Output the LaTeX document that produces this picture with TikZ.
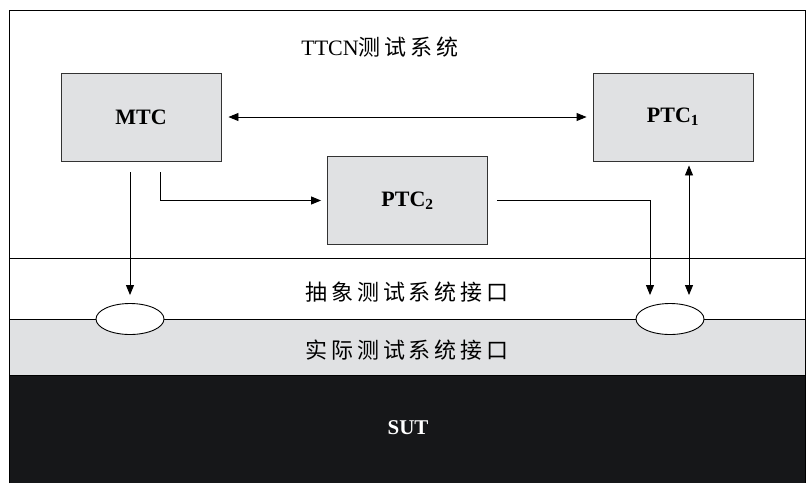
\documentclass[tikz,border=0pt]{standalone}
\usepackage{fontspec}
\setmainfont{Liberation Serif}
\newfontfamily\cjk[LetterSpace=18]{Noto Sans CJK SC}
\usetikzlibrary{arrows.meta,shapes.geometric}
\definecolor{boxgray}{HTML}{E0E1E3}
\definecolor{sutblack}{HTML}{161719}
\tikzset{
  comp/.style={draw=black!80, fill=boxgray, line width=0.9pt, minimum width=160pt,
    minimum height=88pt, font=\fontsize{22}{24}\selectfont\bfseries},
  port/.style={ellipse, draw, fill=white, line width=0.9pt, minimum width=68pt, minimum height=31pt, inner sep=0pt},
  tip/.tip={Triangle[length=10pt,width=8pt]},
  conn/.style={line width=0.9pt, -tip},
  lbl/.style={font=\fontsize{22}{24}\selectfont}
}
\begin{document}
\begin{tikzpicture}[x=1pt,y=-1pt]
  \useasboundingbox (0,0) rectangle (808,483);

      % layers
      \fill[sutblack] (9,375) rectangle (805,483);
      \filldraw[fill=boxgray, line width=0.8pt] (9,319) -- (805,319) -- (805,375) -- (9,375) -- cycle;
      \draw[line width=0.8pt] (9,258) -- (805,258);
      \draw[line width=0.8pt] (9,483) -- (9,10) -- (805,10) -- (805,483);

      \node[lbl] (title) at (380,47) {TTCN{\cjk 测试系统}};
      \node[lbl] (abs) at (407,292) {\cjk 抽象测试系统接口};
      \node[lbl] (real) at (407,350) {\cjk 实际测试系统接口};
      \node[lbl, font=\fontsize{21}{24}\selectfont\bfseries, text=white] (sut) at (408,428) {SUT};

      \node[comp] (mtc) at (141,117) {MTC};
      \node[comp] (ptc1) at (673,117) {PTC\textsubscript{1}};
      \node[comp] (ptc2) at (407.5,200.5) {PTC\textsubscript{2}};

      \node[port] (ifl) at (130,319) {};
      \node[port] (ifr) at (670,319) {};

      \draw[conn, tip-tip, shorten <=7pt, shorten >=6pt] (mtc) -- (ptc1);
      \draw[conn, shorten <=11pt, shorten >=8pt] (mtc.south -| ifl) -- (ifl.north);
      \draw[conn, shorten >=6pt] ([xshift=19pt,yshift=-11pt]mtc.south) |- (ptc2.west);
      \draw[conn, shorten <=9pt, shorten >=8pt] (ptc2.east) -| ([xshift=-20pt]ifr.north);
      \draw[conn, tip-tip, shorten <=4pt, shorten >=8pt] ([xshift=16pt]ptc1.south) -- ([xshift=16pt]ptc1.south |- ifr.north);

\end{tikzpicture}
\end{document}
